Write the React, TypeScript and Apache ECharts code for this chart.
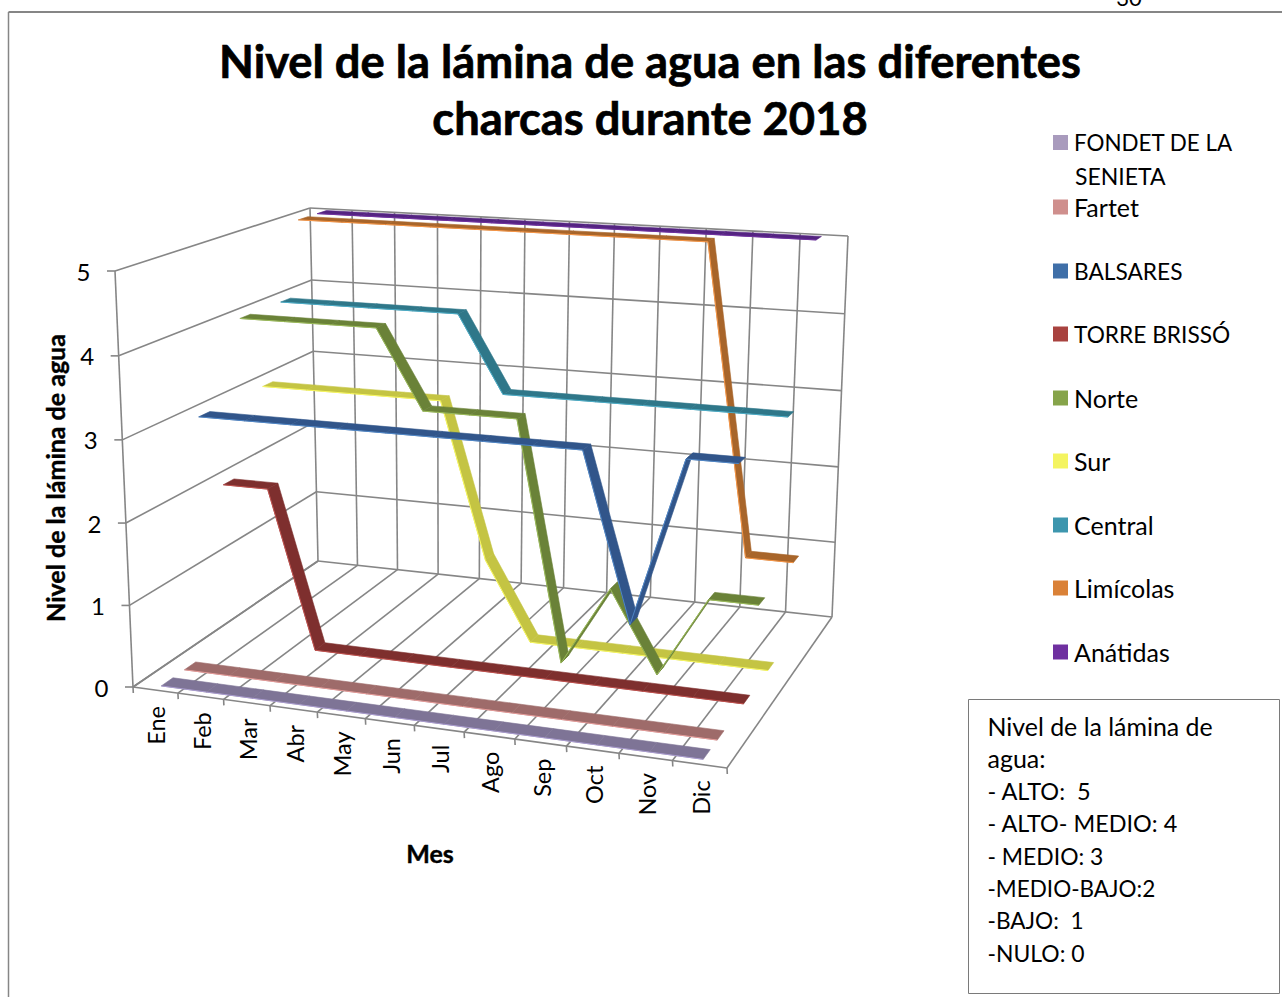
import React, { useEffect, useRef } from "react";
import * as echarts from "echarts";

const months = ["Ene", "Feb", "Mar", "Abr", "May", "Jun", "Jul", "Ago", "Sep", "Oct", "Nov", "Dic"];
const valueTicks = [0, 1, 2, 3, 4, 5];

const fondet = [0, 0, 0, 0, 0, 0, 0, 0, 0, 0, 0, 0];
const fartet = [0, 0, 0, 0, 0, 0, 0, 0, 0, 0, 0, 0];
const balsares = [3, 3, 3, 3, 3, 3, 3, 3, 3, 1, 3, 3];
const torreBrisso = [2, 2, 0, 0, 0, 0, 0, 0, 0, 0, 0, 0];
const norte = [4, 4, 4, 4, 3, 3, 3, 0, 1, 0, 1, 1];
const sur = [3, 3, 3, 3, 3, 1, 0, 0, 0, 0, 0, 0];
const central = [4, 4, 4, 4, 4, 3, 3, 3, 3, 3, 3, 3];
const limicolas = [5, 5, 5, 5, 5, 5, 5, 5, 5, 5, 1, 1];
const anatidas = [5, 5, 5, 5, 5, 5, 5, 5, 5, 5, 5, 5];

const seriesNames = ["FONDET DE LA SENIETA", "Fartet", "BALSARES", "TORRE BRISSÓ", "Norte", "Sur", "Central", "Limícolas", "Anátidas"];
const seriesValues = [fondet, fartet, balsares, torreBrisso, norte, sur, central, limicolas, anatidas];
const legendColors = ["#A99BBD", "#CF8F8D", "#3F6FA8", "#A8423F", "#86A44A", "#F4F460", "#3D96AE", "#DA8137", "#6F30A0"];
const faceColors = ["#7E7496", "#9E6B6A", "#31558A", "#7E2F2E", "#6A8238", "#C4C443", "#2F7789", "#A8652A", "#542481"];
const edgeColors = ["#A99BCF", "#E59A98", "#4F86C6", "#C0504D", "#9BBB59", "#F8F860", "#4BACC6", "#F79646", "#7030A0"];
const legendFontSizes = [22.4, 25, 22.7, 22.7, 25, 25, 25, 25, 25];
const legendTops = [143, 206, 271, 334, 397, 460, 524, 587, 651];

const noteLines = ["Nivel de la lámina de", "agua:", "- ALTO:  5", "- ALTO- MEDIO: 4", "- MEDIO: 3", "-MEDIO-BAJO:2", "-BAJO:  1", "-NULO: 0"];
const noteFontSizes = [24.9, 25, 23.5, 23.4, 22.9, 22.5, 22.6, 22.9];

const FONT = "Lato";
const GRID = "#868686";

// Perspective calibration of the plot box
type P = [number, number];
const A: P = [133, 687], B: P = [727, 768], C: P = [832, 617], D: P = [318, 561];
const E: P = [115, 271], H: P = [741, 310], G: P = [848, 236], F: P = [310, 208];

function quadHomography(p0: P, p1: P, p2: P, p3: P) {
  const dx1 = p1[0] - p2[0], dx2 = p3[0] - p2[0], dx3 = p0[0] - p1[0] + p2[0] - p3[0];
  const dy1 = p1[1] - p2[1], dy2 = p3[1] - p2[1], dy3 = p0[1] - p1[1] + p2[1] - p3[1];
  const det = dx1 * dy2 - dx2 * dy1;
  const g = (dx3 * dy2 - dx2 * dy3) / det;
  const h = (dx1 * dy3 - dx3 * dy1) / det;
  const a = p1[0] - p0[0] + g * p1[0], b = p3[0] - p0[0] + h * p3[0], c = p0[0];
  const d = p1[1] - p0[1] + g * p1[1], e = p3[1] - p0[1] + h * p3[1], f = p0[1];
  return (u: number, v: number): P => {
    const w = g * u + h * v + 1;
    return [(a * u + b * v + c) / w, (d * u + e * v + f) / w];
  };
}
const floorH = quadHomography(A, B, C, D);
const topH = quadHomography(E, H, G, F);
const VMAX = 5;
const ROWS = seriesNames.length;
const HALF = 0.25;

// month position m in [0,12], row position r in [0,ROWS], value v in [0,VMAX]
function project(m: number, r: number, v: number): P {
  const u = m / months.length, w = r / ROWS;
  const t0 = v / VMAX;
  const t = t0 / (1 + 0.025 * (1 - t0));
  const a = floorH(u, w), b = topH(u, w);
  return [a[0] + (b[0] - a[0]) * t, a[1] + (b[1] - a[1]) * t];
}

function gridLine(a: P, b: P, width = 1.6) {
  return {
    type: "line",
    silent: true,
    shape: { x1: a[0], y1: a[1], x2: b[0], y2: b[1] },
    style: { stroke: GRID, lineWidth: width },
  };
}

function label(text: string, x: number, y: number, fontSize: number, extra: any = {}, rotation = 0, fontWeight = "normal") {
  return {
    type: "text",
    x,
    y,
    rotation,
    silent: true,
    style: { text, fontFamily: FONT, fontSize, fontWeight, fill: "#000", align: "center", verticalAlign: "middle", ...extra },
  };
}

function buildGraphics() {
  const els: any[] = [];
  const n = months.length;
  // chart frame
  els.push({ type: "line", silent: true, shape: { x1: 8.5, y1: 12, x2: 1282, y2: 12 }, style: { stroke: "#868686", lineWidth: 2 } });
  els.push({ type: "line", silent: true, shape: { x1: 8.5, y1: 12, x2: 8.5, y2: 997 }, style: { stroke: "#868686", lineWidth: 1.5 } });
  // walls and floor
  for (const v of valueTicks) {
    els.push(gridLine(project(0, 0, v), project(0, ROWS, v)));
    els.push(gridLine(project(0, ROWS, v), project(n, ROWS, v)));
    const p = project(0, 0, v);
    els.push(gridLine([p[0] - 8, p[1]], p));
    els.push(label(String(v), p[0] - 31.5, p[1], 24));
  }
  for (let m = 0; m <= n; m++) {
    els.push(gridLine(project(m, ROWS, 0), project(m, ROWS, VMAX)));
    els.push(gridLine(project(m, 0, 0), project(m, ROWS, 0)));
    const p = project(m, 0, 0);
    els.push(gridLine(p, [p[0] + 0.3, p[1] + 6]));
  }
  els.push(gridLine(project(0, 0, 0), project(n, 0, 0)));
  els.push(gridLine(project(0, 0, 0), project(0, 0, VMAX)));
  months.forEach((name, i) => {
    const p = project(i + 0.5, 0, 0);
    els.push(label(name, p[0] + 1, p[1] + 16, 23.5, { align: "right" }, Math.PI / 2));
  });
  // axis titles
  const boldEdge = { stroke: "#000", lineWidth: 0.4 };
  els.push(label("Nivel de la lámina de agua", 55, 478, 25, boldEdge, Math.PI / 2, "bold"));
  els.push(label("Mes", 430, 853, 25, boldEdge, 0, "bold"));
  // page number cut by the page edge
  els.push(label("30", 1129, -3, 22));
  // second line of the first legend entry
  els.push(label("SENIETA", 1075, 176, 23, { align: "left" }));
  // note box
  els.push({ type: "rect", silent: true, shape: { x: 968.5, y: 699.5, width: 311, height: 294 }, style: { fill: "#fff", stroke: "#7a7a7a", lineWidth: 1 } });
  noteLines.forEach((t, i) => {
    els.push(label(t, 987.5, 726 + i * 32.4, noteFontSizes[i], { align: "left" }));
  });
  return els;
}

function ribbonSeries(idx: number) {
  const values = seriesValues[idx];
  const row = idx + 0.5;
  return {
    type: "custom",
    name: seriesNames[idx],
    coordinateSystem: "none",
    silent: true,
    itemStyle: { color: legendColors[idx] },
    data: values.map((v, i) => [i, v]),
    renderItem: (_params: any, api: any) => {
      const i = api.value(0);
      if (i >= values.length - 1) return null;
      const v0 = api.value(1);
      const v1 = values[i + 1];
      const f0 = project(i + 0.5, row - HALF, v0);
      const f1 = project(i + 1.5, row - HALF, v1);
      const b0 = project(i + 0.5, row + HALF, v0);
      const b1 = project(i + 1.5, row + HALF, v1);
      return {
        type: "group",
        children: [
          {
            type: "polygon",
            shape: { points: [f0, f1, b1, b0] },
            style: { fill: faceColors[idx], stroke: faceColors[idx], lineWidth: 0.6 },
          },
          {
            type: "polyline",
            shape: { points: [f0, f1] },
            style: { fill: "none", stroke: edgeColors[idx], lineWidth: 1 },
          },
        ],
      };
    },
  };
}

export default function App() {
  const ref = useRef<HTMLDivElement>(null);
  useEffect(() => {
    const chart = echarts.init(ref.current!, null, { renderer: "svg" });
    chart.setOption({
      animation: false,
      backgroundColor: "#fff",
      title: {
        text: "Nivel de la lámina de agua en las diferentes\ncharcas durante 2018",
        left: 645,
        top: 27,
        textAlign: "center",
        textStyle: {
          fontFamily: FONT,
          fontWeight: "bold",
          fontSize: 45.3,
          lineHeight: 57,
          color: "#000",
          textBorderColor: "#000",
          textBorderWidth: 0.7,
        },
      },
      legend: seriesNames.map((name, i) => ({
        show: true,
        data: [{ name, itemStyle: { color: legendColors[i] } }],
        left: 1053,
        top: legendTops[i] - 11.5,
        itemWidth: 15,
        itemHeight: 15,
        itemGap: 0,
        icon: "rect",
        selectedMode: false,
        padding: 0,
        formatter: (s: string) => (s === "FONDET DE LA SENIETA" ? "FONDET DE LA" : s),
        textStyle: { fontFamily: FONT, fontSize: legendFontSizes[i], color: "#000", padding: [0, 0, 0, 1] },
      })),
      graphic: buildGraphics(),
      series: seriesNames.map((_, i) => ribbonSeries(ROWS - 1 - i)),
    });
    return () => chart.dispose();
  }, []);
  return <div ref={ref} style={{ position: "fixed", left: 0, top: 0, width: 1282, height: 997, overflow: "hidden" }} />;
}
